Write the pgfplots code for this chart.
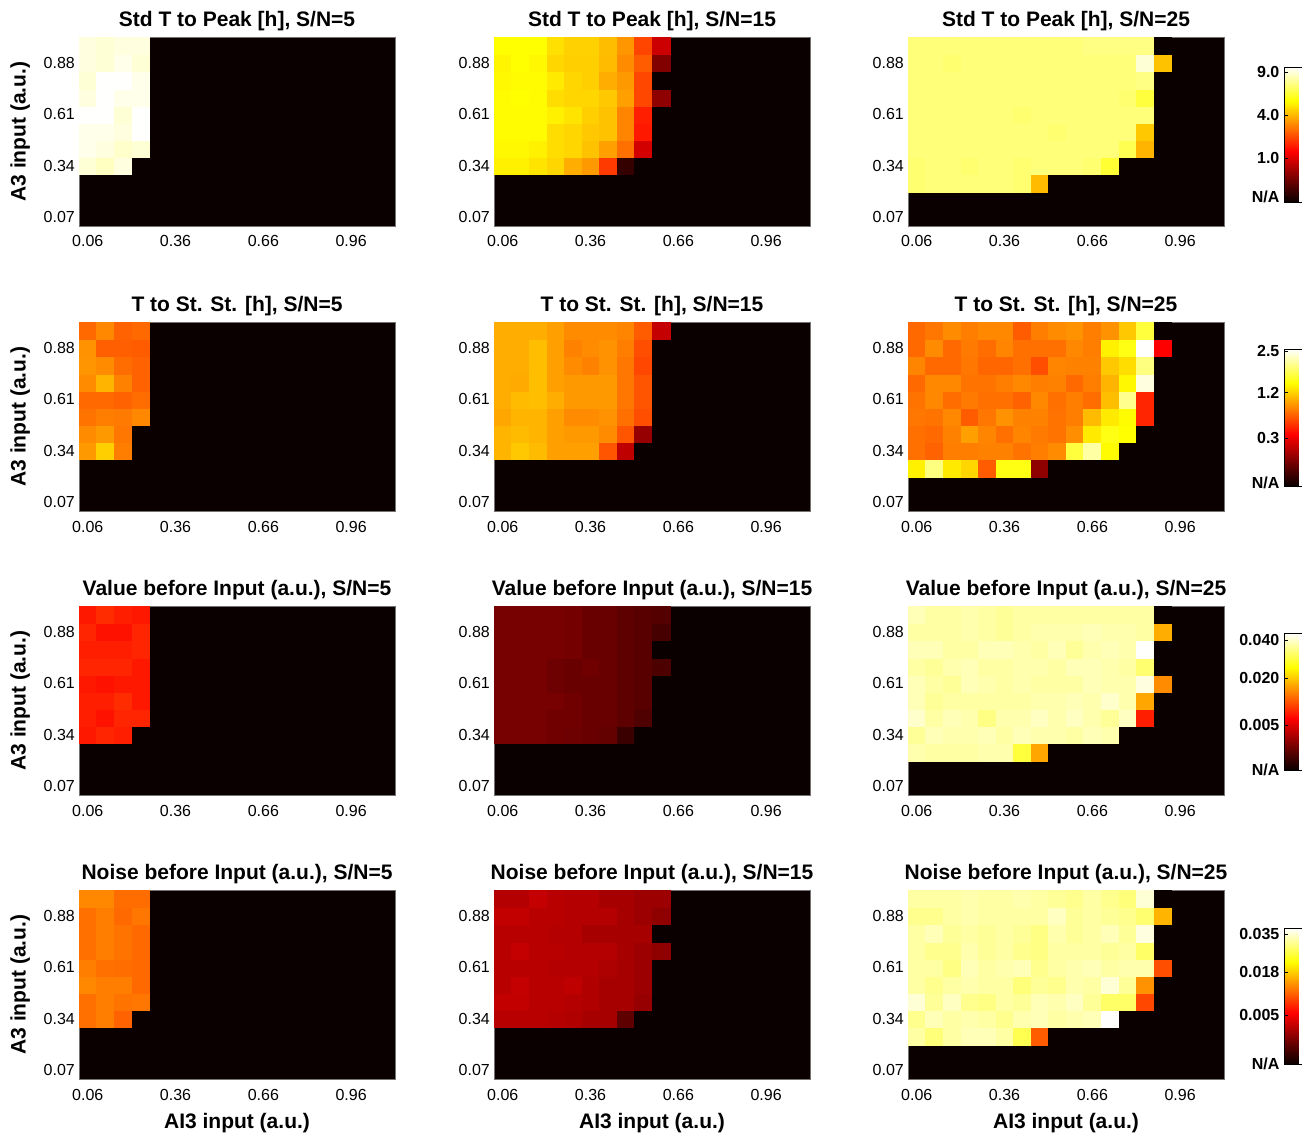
\documentclass[border=0pt]{standalone}
\usepackage{fontspec}
\setmainfont{Liberation Sans}
\usepackage{pgfplots}
\usepackage{pgfplotstable}
\pgfplotsset{compat=1.18}

\definecolor{hotblack}{rgb}{0.0417,0,0}

% colour value c in [0,1] along a MATLAB-like "hot" map; 0 = N/A
% Std T to Peak
\pgfplotstableread[row sep=\\]{
x y c\\
0.06 0.34 0.96\\ 0.12 0.34 0.94\\ 0.18 0.34 0.97\\ 0.24 0.34 0\\
0.06 0.43 0.98\\ 0.12 0.43 0.97\\ 0.18 0.43 0.95\\ 0.24 0.43 0.96\\
0.06 0.52 0.98\\ 0.12 0.52 0.98\\ 0.18 0.52 0.97\\ 0.24 0.52 1.00\\
0.06 0.61 1.00\\ 0.12 0.61 1.00\\ 0.18 0.61 0.96\\ 0.24 0.61 1.00\\
0.06 0.70 0.97\\ 0.12 0.70 1.00\\ 0.18 0.70 0.98\\ 0.24 0.70 0.98\\
0.06 0.79 0.96\\ 0.12 0.79 1.00\\ 0.18 0.79 1.00\\ 0.24 0.79 0.98\\
0.06 0.88 0.97\\ 0.12 0.88 0.96\\ 0.18 0.88 0.98\\ 0.24 0.88 0.96\\
0.06 0.97 0.97\\ 0.12 0.97 0.96\\ 0.18 0.97 0.97\\ 0.24 0.97 0.97\\
}\tAa
\pgfplotstableread[row sep=\\]{
x y c\\
0.06 0.34 0.73\\ 0.12 0.34 0.73\\ 0.18 0.34 0.71\\ 0.24 0.34 0.69\\ 0.30 0.34 0.63\\ 0.36 0.34 0.60\\ 0.42 0.34 0.46\\ 0.48 0.34 0.07\\ 0.54 0.34 0\\ 0.60 0.34 0\\
0.06 0.43 0.74\\ 0.12 0.43 0.74\\ 0.18 0.43 0.73\\ 0.24 0.43 0.70\\ 0.30 0.43 0.69\\ 0.36 0.43 0.66\\ 0.42 0.43 0.61\\ 0.48 0.43 0.54\\ 0.54 0.43 0.31\\ 0.60 0.43 0\\
0.06 0.52 0.745\\ 0.12 0.52 0.745\\ 0.18 0.52 0.745\\ 0.24 0.52 0.70\\ 0.30 0.52 0.69\\ 0.36 0.52 0.67\\ 0.42 0.52 0.66\\ 0.48 0.52 0.57\\ 0.54 0.52 0.41\\ 0.60 0.52 0\\
0.06 0.61 0.745\\ 0.12 0.61 0.745\\ 0.18 0.61 0.745\\ 0.24 0.61 0.73\\ 0.30 0.61 0.71\\ 0.36 0.61 0.68\\ 0.42 0.61 0.66\\ 0.48 0.61 0.57\\ 0.54 0.61 0.42\\ 0.60 0.61 0\\
0.06 0.70 0.745\\ 0.12 0.70 0.75\\ 0.18 0.70 0.745\\ 0.24 0.70 0.70\\ 0.30 0.70 0.69\\ 0.36 0.70 0.69\\ 0.42 0.70 0.67\\ 0.48 0.70 0.61\\ 0.54 0.70 0.48\\ 0.60 0.70 0.21\\
0.06 0.79 0.74\\ 0.12 0.79 0.745\\ 0.18 0.79 0.745\\ 0.24 0.79 0.72\\ 0.30 0.79 0.69\\ 0.36 0.79 0.68\\ 0.42 0.79 0.63\\ 0.48 0.79 0.60\\ 0.54 0.79 0.48\\ 0.60 0.79 0\\
0.06 0.88 0.735\\ 0.12 0.88 0.75\\ 0.18 0.88 0.74\\ 0.24 0.88 0.69\\ 0.30 0.88 0.68\\ 0.36 0.88 0.68\\ 0.42 0.88 0.65\\ 0.48 0.88 0.58\\ 0.54 0.88 0.51\\ 0.60 0.88 0.19\\
0.06 0.97 0.75\\ 0.12 0.97 0.75\\ 0.18 0.97 0.75\\ 0.24 0.97 0.705\\ 0.30 0.97 0.683\\ 0.36 0.97 0.683\\ 0.42 0.97 0.654\\ 0.48 0.97 0.596\\ 0.54 0.97 0.477\\ 0.60 0.97 0.30\\
}\tAb
\pgfplotstableread[row sep=\\]{
x y c\\
0.06 0.25 0.86\\ 0.12 0.25 0.87\\ 0.18 0.25 0.87\\ 0.24 0.25 0.87\\ 0.30 0.25 0.87\\ 0.36 0.25 0.87\\ 0.42 0.25 0.86\\ 0.48 0.25 0.65\\ 0.54 0.25 0\\ 0.60 0.25 0\\ 0.66 0.25 0\\ 0.72 0.25 0\\ 0.78 0.25 0\\ 0.84 0.25 0\\ 0.90 0.25 0\\
0.06 0.34 0.86\\ 0.12 0.34 0.87\\ 0.18 0.34 0.87\\ 0.24 0.34 0.86\\ 0.30 0.34 0.87\\ 0.36 0.34 0.87\\ 0.42 0.34 0.86\\ 0.48 0.34 0.87\\ 0.54 0.34 0.87\\ 0.60 0.34 0.87\\ 0.66 0.34 0.86\\ 0.72 0.34 0.80\\ 0.78 0.34 0\\ 0.84 0.34 0\\ 0.90 0.34 0\\
0.06 0.43 0.87\\ 0.12 0.43 0.87\\ 0.18 0.43 0.87\\ 0.24 0.43 0.87\\ 0.30 0.43 0.87\\ 0.36 0.43 0.87\\ 0.42 0.43 0.87\\ 0.48 0.43 0.87\\ 0.54 0.43 0.87\\ 0.60 0.43 0.87\\ 0.66 0.43 0.87\\ 0.72 0.43 0.87\\ 0.78 0.43 0.83\\ 0.84 0.43 0.64\\ 0.90 0.43 0\\
0.06 0.52 0.87\\ 0.12 0.52 0.87\\ 0.18 0.52 0.87\\ 0.24 0.52 0.87\\ 0.30 0.52 0.87\\ 0.36 0.52 0.87\\ 0.42 0.52 0.87\\ 0.48 0.52 0.87\\ 0.54 0.52 0.86\\ 0.60 0.52 0.87\\ 0.66 0.52 0.87\\ 0.72 0.52 0.87\\ 0.78 0.52 0.87\\ 0.84 0.52 0.67\\ 0.90 0.52 0\\
0.06 0.61 0.87\\ 0.12 0.61 0.87\\ 0.18 0.61 0.87\\ 0.24 0.61 0.87\\ 0.30 0.61 0.87\\ 0.36 0.61 0.87\\ 0.42 0.61 0.86\\ 0.48 0.61 0.87\\ 0.54 0.61 0.87\\ 0.60 0.61 0.87\\ 0.66 0.61 0.87\\ 0.72 0.61 0.87\\ 0.78 0.61 0.87\\ 0.84 0.61 0.87\\ 0.90 0.61 0\\
0.06 0.70 0.87\\ 0.12 0.70 0.87\\ 0.18 0.70 0.87\\ 0.24 0.70 0.87\\ 0.30 0.70 0.87\\ 0.36 0.70 0.87\\ 0.42 0.70 0.87\\ 0.48 0.70 0.87\\ 0.54 0.70 0.87\\ 0.60 0.70 0.87\\ 0.66 0.70 0.87\\ 0.72 0.70 0.87\\ 0.78 0.70 0.86\\ 0.84 0.70 0.81\\ 0.90 0.70 0\\
0.06 0.79 0.87\\ 0.12 0.79 0.87\\ 0.18 0.79 0.87\\ 0.24 0.79 0.87\\ 0.30 0.79 0.87\\ 0.36 0.79 0.87\\ 0.42 0.79 0.87\\ 0.48 0.79 0.87\\ 0.54 0.79 0.87\\ 0.60 0.79 0.87\\ 0.66 0.79 0.87\\ 0.72 0.79 0.87\\ 0.78 0.79 0.87\\ 0.84 0.79 0.88\\ 0.90 0.79 0\\
0.06 0.88 0.87\\ 0.12 0.88 0.87\\ 0.18 0.88 0.86\\ 0.24 0.88 0.87\\ 0.30 0.88 0.87\\ 0.36 0.88 0.87\\ 0.42 0.88 0.87\\ 0.48 0.88 0.87\\ 0.54 0.88 0.87\\ 0.60 0.88 0.87\\ 0.66 0.88 0.87\\ 0.72 0.88 0.87\\ 0.78 0.88 0.87\\ 0.84 0.88 0.96\\ 0.90 0.88 0.66\\
0.06 0.97 0.87\\ 0.12 0.97 0.87\\ 0.18 0.97 0.87\\ 0.24 0.97 0.87\\ 0.30 0.97 0.87\\ 0.36 0.97 0.87\\ 0.42 0.97 0.87\\ 0.48 0.97 0.87\\ 0.54 0.97 0.87\\ 0.60 0.97 0.87\\ 0.66 0.97 0.88\\ 0.72 0.97 0.88\\ 0.78 0.97 0.88\\ 0.84 0.97 0.88\\ 0.90 0.97 0\\
}\tAc
% T to St. St.
\pgfplotstableread[row sep=\\]{
x y c\\
0.06 0.34 0.60\\ 0.12 0.34 0.68\\ 0.18 0.34 0.56\\ 0.24 0.34 0\\
0.06 0.43 0.58\\ 0.12 0.43 0.60\\ 0.18 0.43 0.55\\ 0.24 0.43 0\\
0.06 0.52 0.545\\ 0.12 0.52 0.56\\ 0.18 0.52 0.555\\ 0.24 0.52 0.575\\
0.06 0.61 0.53\\ 0.12 0.61 0.53\\ 0.18 0.61 0.52\\ 0.24 0.61 0.535\\
0.06 0.70 0.58\\ 0.12 0.70 0.64\\ 0.18 0.70 0.565\\ 0.24 0.70 0.52\\
0.06 0.79 0.595\\ 0.12 0.79 0.58\\ 0.18 0.79 0.535\\ 0.24 0.79 0.52\\
0.06 0.88 0.59\\ 0.12 0.88 0.515\\ 0.18 0.88 0.515\\ 0.24 0.88 0.51\\
0.06 0.97 0.53\\ 0.12 0.97 0.575\\ 0.18 0.97 0.52\\ 0.24 0.97 0.53\\
}\tBa
\pgfplotstableread[row sep=\\]{
x y c\\
0.06 0.34 0.64\\ 0.12 0.34 0.67\\ 0.18 0.34 0.65\\ 0.24 0.34 0.61\\ 0.30 0.34 0.61\\ 0.36 0.34 0.61\\ 0.42 0.34 0.50\\ 0.48 0.34 0.28\\ 0.54 0.34 0\\ 0.60 0.34 0\\
0.06 0.43 0.64\\ 0.12 0.43 0.65\\ 0.18 0.43 0.64\\ 0.24 0.43 0.61\\ 0.30 0.43 0.60\\ 0.36 0.43 0.60\\ 0.42 0.43 0.58\\ 0.48 0.43 0.50\\ 0.54 0.43 0.22\\ 0.60 0.43 0\\
0.06 0.52 0.62\\ 0.12 0.52 0.64\\ 0.18 0.52 0.64\\ 0.24 0.52 0.61\\ 0.30 0.52 0.58\\ 0.36 0.52 0.58\\ 0.42 0.52 0.59\\ 0.48 0.52 0.54\\ 0.54 0.52 0.49\\ 0.60 0.52 0\\
0.06 0.61 0.63\\ 0.12 0.61 0.65\\ 0.18 0.61 0.655\\ 0.24 0.61 0.63\\ 0.30 0.61 0.60\\ 0.36 0.61 0.60\\ 0.42 0.61 0.60\\ 0.48 0.61 0.55\\ 0.54 0.61 0.50\\ 0.60 0.61 0\\
0.06 0.70 0.63\\ 0.12 0.70 0.625\\ 0.18 0.70 0.655\\ 0.24 0.70 0.61\\ 0.30 0.70 0.60\\ 0.36 0.70 0.60\\ 0.42 0.70 0.60\\ 0.48 0.70 0.55\\ 0.54 0.70 0.50\\ 0.60 0.70 0\\
0.06 0.79 0.63\\ 0.12 0.79 0.63\\ 0.18 0.79 0.655\\ 0.24 0.79 0.61\\ 0.30 0.79 0.58\\ 0.36 0.79 0.565\\ 0.42 0.79 0.59\\ 0.48 0.79 0.55\\ 0.54 0.79 0.48\\ 0.60 0.79 0\\
0.06 0.88 0.63\\ 0.12 0.88 0.63\\ 0.18 0.88 0.655\\ 0.24 0.88 0.61\\ 0.30 0.88 0.565\\ 0.36 0.88 0.58\\ 0.42 0.88 0.59\\ 0.48 0.88 0.56\\ 0.54 0.88 0.49\\ 0.60 0.88 0\\
0.06 0.97 0.63\\ 0.12 0.97 0.63\\ 0.18 0.97 0.63\\ 0.24 0.97 0.61\\ 0.30 0.97 0.58\\ 0.36 0.97 0.58\\ 0.42 0.97 0.58\\ 0.48 0.97 0.57\\ 0.54 0.97 0.51\\ 0.60 0.97 0.29\\
}\tBb
\pgfplotstableread[row sep=\\]{
x y c\\
0.06 0.25 0.73\\ 0.12 0.25 0.875\\ 0.18 0.25 0.72\\ 0.24 0.25 0.69\\ 0.30 0.25 0.51\\ 0.36 0.25 0.77\\ 0.42 0.25 0.77\\ 0.48 0.25 0.21\\ 0.54 0.25 0\\ 0.60 0.25 0\\ 0.66 0.25 0\\ 0.72 0.25 0\\ 0.78 0.25 0\\ 0.84 0.25 0\\ 0.90 0.25 0\\
0.06 0.34 0.54\\ 0.12 0.34 0.52\\ 0.18 0.34 0.56\\ 0.24 0.34 0.56\\ 0.30 0.34 0.565\\ 0.36 0.34 0.565\\ 0.42 0.34 0.545\\ 0.48 0.34 0.56\\ 0.54 0.34 0.58\\ 0.60 0.34 0.81\\ 0.66 0.34 0.91\\ 0.72 0.34 0.745\\ 0.78 0.34 0\\ 0.84 0.34 0\\ 0.90 0.34 0\\
0.06 0.43 0.54\\ 0.12 0.43 0.53\\ 0.18 0.43 0.565\\ 0.24 0.43 0.61\\ 0.30 0.43 0.57\\ 0.36 0.43 0.54\\ 0.42 0.43 0.57\\ 0.48 0.43 0.555\\ 0.54 0.43 0.545\\ 0.60 0.43 0.585\\ 0.66 0.43 0.72\\ 0.72 0.43 0.77\\ 0.78 0.43 0.75\\ 0.84 0.43 0\\ 0.90 0.43 0\\
0.06 0.52 0.55\\ 0.12 0.52 0.545\\ 0.18 0.52 0.575\\ 0.24 0.52 0.51\\ 0.30 0.52 0.55\\ 0.36 0.52 0.59\\ 0.42 0.52 0.565\\ 0.48 0.52 0.565\\ 0.54 0.52 0.545\\ 0.60 0.52 0.56\\ 0.66 0.52 0.65\\ 0.72 0.52 0.72\\ 0.78 0.52 0.745\\ 0.84 0.52 0.43\\ 0.90 0.52 0\\
0.06 0.61 0.545\\ 0.12 0.61 0.575\\ 0.18 0.61 0.535\\ 0.24 0.61 0.555\\ 0.30 0.61 0.54\\ 0.36 0.61 0.54\\ 0.42 0.61 0.52\\ 0.48 0.61 0.575\\ 0.54 0.61 0.54\\ 0.60 0.61 0.56\\ 0.66 0.61 0.535\\ 0.72 0.61 0.655\\ 0.78 0.61 0.89\\ 0.84 0.61 0.43\\ 0.90 0.61 0\\
0.06 0.70 0.53\\ 0.12 0.70 0.575\\ 0.18 0.70 0.575\\ 0.24 0.70 0.545\\ 0.30 0.70 0.545\\ 0.36 0.70 0.56\\ 0.42 0.70 0.575\\ 0.48 0.70 0.56\\ 0.54 0.70 0.565\\ 0.60 0.70 0.53\\ 0.66 0.70 0.56\\ 0.72 0.70 0.64\\ 0.78 0.70 0.74\\ 0.84 0.70 0.97\\ 0.90 0.70 0\\
0.06 0.79 0.57\\ 0.12 0.79 0.53\\ 0.18 0.79 0.53\\ 0.24 0.79 0.55\\ 0.30 0.79 0.525\\ 0.36 0.79 0.525\\ 0.42 0.79 0.54\\ 0.48 0.79 0.49\\ 0.54 0.79 0.57\\ 0.60 0.79 0.565\\ 0.66 0.79 0.565\\ 0.72 0.79 0.67\\ 0.78 0.79 0.70\\ 0.84 0.79 0.875\\ 0.90 0.79 0\\
0.06 0.88 0.53\\ 0.12 0.88 0.58\\ 0.18 0.88 0.53\\ 0.24 0.88 0.555\\ 0.30 0.88 0.535\\ 0.36 0.88 0.57\\ 0.42 0.88 0.54\\ 0.48 0.88 0.54\\ 0.54 0.88 0.54\\ 0.60 0.88 0.575\\ 0.66 0.88 0.56\\ 0.72 0.88 0.73\\ 0.78 0.88 0.77\\ 0.84 0.88 1.00\\ 0.90 0.88 0.375\\
0.06 0.97 0.53\\ 0.12 0.97 0.55\\ 0.18 0.97 0.58\\ 0.24 0.97 0.56\\ 0.30 0.97 0.575\\ 0.36 0.97 0.575\\ 0.42 0.97 0.51\\ 0.48 0.97 0.56\\ 0.54 0.97 0.58\\ 0.60 0.97 0.59\\ 0.66 0.97 0.56\\ 0.72 0.97 0.59\\ 0.78 0.97 0.67\\ 0.84 0.97 0.81\\ 0.90 0.97 0\\
}\tBc
% Value before Input
\pgfplotstableread[row sep=\\]{
x y c\\
0.06 0.34 0.41\\ 0.12 0.34 0.43\\ 0.18 0.34 0.42\\ 0.24 0.34 0\\
0.06 0.43 0.42\\ 0.12 0.43 0.40\\ 0.18 0.43 0.43\\ 0.24 0.43 0.43\\
0.06 0.52 0.42\\ 0.12 0.52 0.42\\ 0.18 0.52 0.44\\ 0.24 0.52 0.41\\
0.06 0.61 0.41\\ 0.12 0.61 0.40\\ 0.18 0.61 0.41\\ 0.24 0.61 0.41\\
0.06 0.70 0.43\\ 0.12 0.70 0.43\\ 0.18 0.70 0.43\\ 0.24 0.70 0.41\\
0.06 0.79 0.42\\ 0.12 0.79 0.42\\ 0.18 0.79 0.42\\ 0.24 0.79 0.43\\
0.06 0.88 0.43\\ 0.12 0.88 0.40\\ 0.18 0.88 0.40\\ 0.24 0.88 0.43\\
0.06 0.97 0.41\\ 0.12 0.97 0.44\\ 0.18 0.97 0.42\\ 0.24 0.97 0.41\\
}\tCa
\pgfplotstableread[row sep=\\]{
x y c\\
0.06 0.34 0.175\\ 0.12 0.34 0.175\\ 0.18 0.34 0.175\\ 0.24 0.34 0.165\\ 0.30 0.34 0.16\\ 0.36 0.34 0.155\\ 0.42 0.34 0.145\\ 0.48 0.34 0.08\\ 0.54 0.34 0\\ 0.60 0.34 0\\
0.06 0.43 0.175\\ 0.12 0.43 0.175\\ 0.18 0.43 0.175\\ 0.24 0.43 0.165\\ 0.30 0.43 0.165\\ 0.36 0.43 0.155\\ 0.42 0.43 0.155\\ 0.48 0.43 0.14\\ 0.54 0.43 0.115\\ 0.60 0.43 0\\
0.06 0.52 0.175\\ 0.12 0.52 0.175\\ 0.18 0.52 0.175\\ 0.24 0.52 0.175\\ 0.30 0.52 0.165\\ 0.36 0.52 0.155\\ 0.42 0.52 0.155\\ 0.48 0.52 0.14\\ 0.54 0.52 0.13\\ 0.60 0.52 0\\
0.06 0.61 0.175\\ 0.12 0.61 0.175\\ 0.18 0.61 0.175\\ 0.24 0.61 0.16\\ 0.30 0.61 0.155\\ 0.36 0.61 0.155\\ 0.42 0.61 0.155\\ 0.48 0.61 0.14\\ 0.54 0.61 0.13\\ 0.60 0.61 0\\
0.06 0.70 0.175\\ 0.12 0.70 0.175\\ 0.18 0.70 0.175\\ 0.24 0.70 0.16\\ 0.30 0.70 0.155\\ 0.36 0.70 0.165\\ 0.42 0.70 0.155\\ 0.48 0.70 0.14\\ 0.54 0.70 0.13\\ 0.60 0.70 0.11\\
0.06 0.79 0.175\\ 0.12 0.79 0.175\\ 0.18 0.79 0.175\\ 0.24 0.79 0.175\\ 0.30 0.79 0.17\\ 0.36 0.79 0.155\\ 0.42 0.79 0.155\\ 0.48 0.79 0.14\\ 0.54 0.79 0.13\\ 0.60 0.79 0\\
0.06 0.88 0.175\\ 0.12 0.88 0.175\\ 0.18 0.88 0.175\\ 0.24 0.88 0.175\\ 0.30 0.88 0.17\\ 0.36 0.88 0.155\\ 0.42 0.88 0.155\\ 0.48 0.88 0.14\\ 0.54 0.88 0.13\\ 0.60 0.88 0.10\\
0.06 0.97 0.175\\ 0.12 0.97 0.175\\ 0.18 0.97 0.175\\ 0.24 0.97 0.175\\ 0.30 0.97 0.17\\ 0.36 0.97 0.155\\ 0.42 0.97 0.155\\ 0.48 0.97 0.14\\ 0.54 0.97 0.13\\ 0.60 0.97 0.125\\
}\tCb
\pgfplotstableread[row sep=\\]{
x y c\\
0.06 0.25 0.92\\ 0.12 0.25 0.91\\ 0.18 0.25 0.91\\ 0.24 0.25 0.91\\ 0.30 0.25 0.92\\ 0.36 0.25 0.92\\ 0.42 0.25 0.81\\ 0.48 0.25 0.62\\ 0.54 0.25 0\\ 0.60 0.25 0\\ 0.66 0.25 0\\ 0.72 0.25 0\\ 0.78 0.25 0\\ 0.84 0.25 0\\ 0.90 0.25 0\\
0.06 0.34 0.90\\ 0.12 0.34 0.93\\ 0.18 0.34 0.92\\ 0.24 0.34 0.92\\ 0.30 0.34 0.93\\ 0.36 0.34 0.91\\ 0.42 0.34 0.93\\ 0.48 0.34 0.92\\ 0.54 0.34 0.92\\ 0.60 0.34 0.91\\ 0.66 0.34 0.93\\ 0.72 0.34 0.92\\ 0.78 0.34 0\\ 0.84 0.34 0\\ 0.90 0.34 0\\
0.06 0.43 0.95\\ 0.12 0.43 0.91\\ 0.18 0.43 0.93\\ 0.24 0.43 0.92\\ 0.30 0.43 0.88\\ 0.36 0.43 0.92\\ 0.42 0.43 0.92\\ 0.48 0.43 0.94\\ 0.54 0.43 0.92\\ 0.60 0.43 0.94\\ 0.66 0.43 0.92\\ 0.72 0.43 0.90\\ 0.78 0.43 0.94\\ 0.84 0.43 0.42\\ 0.90 0.43 0\\
0.06 0.52 0.93\\ 0.12 0.52 0.90\\ 0.18 0.52 0.91\\ 0.24 0.52 0.91\\ 0.30 0.52 0.91\\ 0.36 0.52 0.91\\ 0.42 0.52 0.91\\ 0.48 0.52 0.92\\ 0.54 0.52 0.92\\ 0.60 0.52 0.93\\ 0.66 0.52 0.92\\ 0.72 0.52 0.95\\ 0.78 0.52 0.92\\ 0.84 0.52 0.62\\ 0.90 0.52 0\\
0.06 0.61 0.93\\ 0.12 0.61 0.91\\ 0.18 0.61 0.90\\ 0.24 0.61 0.93\\ 0.30 0.61 0.92\\ 0.36 0.61 0.91\\ 0.42 0.61 0.92\\ 0.48 0.61 0.91\\ 0.54 0.61 0.91\\ 0.60 0.61 0.91\\ 0.66 0.61 0.93\\ 0.72 0.61 0.92\\ 0.78 0.61 0.92\\ 0.84 0.61 0.97\\ 0.90 0.61 0.58\\
0.06 0.70 0.91\\ 0.12 0.70 0.90\\ 0.18 0.70 0.92\\ 0.24 0.70 0.93\\ 0.30 0.70 0.91\\ 0.36 0.70 0.91\\ 0.42 0.70 0.92\\ 0.48 0.70 0.92\\ 0.54 0.70 0.91\\ 0.60 0.70 0.93\\ 0.66 0.70 0.93\\ 0.72 0.70 0.92\\ 0.78 0.70 0.91\\ 0.84 0.70 0.86\\ 0.90 0.70 0\\
0.06 0.79 0.93\\ 0.12 0.79 0.93\\ 0.18 0.79 0.91\\ 0.24 0.79 0.91\\ 0.30 0.79 0.93\\ 0.36 0.79 0.93\\ 0.42 0.79 0.92\\ 0.48 0.79 0.91\\ 0.54 0.79 0.93\\ 0.60 0.79 0.90\\ 0.66 0.79 0.92\\ 0.72 0.79 0.93\\ 0.78 0.79 0.92\\ 0.84 0.79 1.00\\ 0.90 0.79 0\\
0.06 0.88 0.91\\ 0.12 0.88 0.91\\ 0.18 0.88 0.91\\ 0.24 0.88 0.92\\ 0.30 0.88 0.91\\ 0.36 0.88 0.90\\ 0.42 0.88 0.91\\ 0.48 0.88 0.92\\ 0.54 0.88 0.92\\ 0.60 0.88 0.92\\ 0.66 0.88 0.93\\ 0.72 0.88 0.92\\ 0.78 0.88 0.92\\ 0.84 0.88 0.91\\ 0.90 0.88 0.63\\
0.06 0.97 0.93\\ 0.12 0.97 0.91\\ 0.18 0.97 0.91\\ 0.24 0.97 0.92\\ 0.30 0.97 0.91\\ 0.36 0.97 0.90\\ 0.42 0.97 0.91\\ 0.48 0.97 0.91\\ 0.54 0.97 0.91\\ 0.60 0.97 0.91\\ 0.66 0.97 0.91\\ 0.72 0.97 0.91\\ 0.78 0.97 0.91\\ 0.84 0.97 0.91\\ 0.90 0.97 0\\
}\tCc
% Noise before Input
\pgfplotstableread[row sep=\\]{
x y c\\
0.06 0.34 0.54\\ 0.12 0.34 0.56\\ 0.18 0.34 0.52\\ 0.24 0.34 0\\
0.06 0.43 0.54\\ 0.12 0.43 0.56\\ 0.18 0.43 0.545\\ 0.24 0.43 0.55\\
0.06 0.52 0.575\\ 0.12 0.52 0.56\\ 0.18 0.52 0.56\\ 0.24 0.52 0.53\\
0.06 0.61 0.56\\ 0.12 0.61 0.54\\ 0.18 0.61 0.535\\ 0.24 0.61 0.53\\
0.06 0.70 0.54\\ 0.12 0.70 0.56\\ 0.18 0.70 0.545\\ 0.24 0.70 0.53\\
0.06 0.79 0.54\\ 0.12 0.79 0.56\\ 0.18 0.79 0.545\\ 0.24 0.79 0.53\\
0.06 0.88 0.54\\ 0.12 0.88 0.56\\ 0.18 0.88 0.53\\ 0.24 0.88 0.55\\
0.06 0.97 0.575\\ 0.12 0.97 0.575\\ 0.18 0.97 0.535\\ 0.24 0.97 0.535\\
}\tDa
\pgfplotstableread[row sep=\\]{
x y c\\
0.06 0.34 0.27\\ 0.12 0.34 0.27\\ 0.18 0.34 0.27\\ 0.24 0.34 0.265\\ 0.30 0.34 0.26\\ 0.36 0.34 0.245\\ 0.42 0.34 0.245\\ 0.48 0.34 0.14\\ 0.54 0.34 0\\ 0.60 0.34 0\\
0.06 0.43 0.285\\ 0.12 0.43 0.285\\ 0.18 0.43 0.27\\ 0.24 0.43 0.27\\ 0.30 0.43 0.265\\ 0.36 0.43 0.26\\ 0.42 0.43 0.245\\ 0.48 0.43 0.245\\ 0.54 0.43 0.22\\ 0.60 0.43 0\\
0.06 0.52 0.27\\ 0.12 0.52 0.29\\ 0.18 0.52 0.27\\ 0.24 0.52 0.27\\ 0.30 0.52 0.28\\ 0.36 0.52 0.26\\ 0.42 0.52 0.245\\ 0.48 0.52 0.245\\ 0.54 0.52 0.23\\ 0.60 0.52 0\\
0.06 0.61 0.27\\ 0.12 0.61 0.27\\ 0.18 0.61 0.27\\ 0.24 0.61 0.265\\ 0.30 0.61 0.265\\ 0.36 0.61 0.265\\ 0.42 0.61 0.255\\ 0.48 0.61 0.245\\ 0.54 0.61 0.23\\ 0.60 0.61 0\\
0.06 0.70 0.27\\ 0.12 0.70 0.29\\ 0.18 0.70 0.27\\ 0.24 0.70 0.27\\ 0.30 0.70 0.265\\ 0.36 0.70 0.265\\ 0.42 0.70 0.265\\ 0.48 0.70 0.245\\ 0.54 0.70 0.23\\ 0.60 0.70 0.21\\
0.06 0.79 0.27\\ 0.12 0.79 0.27\\ 0.18 0.79 0.27\\ 0.24 0.79 0.265\\ 0.30 0.79 0.265\\ 0.36 0.79 0.245\\ 0.42 0.79 0.245\\ 0.48 0.79 0.245\\ 0.54 0.79 0.245\\ 0.60 0.79 0\\
0.06 0.88 0.285\\ 0.12 0.88 0.285\\ 0.18 0.88 0.27\\ 0.24 0.88 0.27\\ 0.30 0.88 0.265\\ 0.36 0.88 0.265\\ 0.42 0.88 0.265\\ 0.48 0.88 0.245\\ 0.54 0.88 0.23\\ 0.60 0.88 0.21\\
0.06 0.97 0.265\\ 0.12 0.97 0.265\\ 0.18 0.97 0.29\\ 0.24 0.97 0.27\\ 0.30 0.97 0.265\\ 0.36 0.97 0.265\\ 0.42 0.97 0.245\\ 0.48 0.97 0.245\\ 0.54 0.97 0.23\\ 0.60 0.97 0.23\\
}\tDb
\pgfplotstableread[row sep=\\]{
x y c\\
0.06 0.25 0.91\\ 0.12 0.25 0.87\\ 0.18 0.25 0.91\\ 0.24 0.25 0.93\\ 0.30 0.25 0.93\\ 0.36 0.25 0.91\\ 0.42 0.25 0.83\\ 0.48 0.25 0.51\\ 0.54 0.25 0\\ 0.60 0.25 0\\ 0.66 0.25 0\\ 0.72 0.25 0\\ 0.78 0.25 0\\ 0.84 0.25 0\\ 0.90 0.25 0\\
0.06 0.34 0.89\\ 0.12 0.34 0.93\\ 0.18 0.34 0.91\\ 0.24 0.34 0.92\\ 0.30 0.34 0.91\\ 0.36 0.34 0.89\\ 0.42 0.34 0.92\\ 0.48 0.34 0.93\\ 0.54 0.34 0.91\\ 0.60 0.34 0.92\\ 0.66 0.34 0.93\\ 0.72 0.34 1.00\\ 0.78 0.34 0\\ 0.84 0.34 0\\ 0.90 0.34 0\\
0.06 0.43 0.96\\ 0.12 0.43 0.90\\ 0.18 0.43 0.94\\ 0.24 0.43 0.89\\ 0.30 0.43 0.88\\ 0.36 0.43 0.91\\ 0.42 0.43 0.90\\ 0.48 0.43 0.93\\ 0.54 0.43 0.92\\ 0.60 0.43 0.94\\ 0.66 0.43 0.90\\ 0.72 0.43 0.85\\ 0.78 0.43 0.85\\ 0.84 0.43 0.48\\ 0.90 0.43 0\\
0.06 0.52 0.91\\ 0.12 0.52 0.89\\ 0.18 0.52 0.91\\ 0.24 0.52 0.92\\ 0.30 0.52 0.91\\ 0.36 0.52 0.91\\ 0.42 0.52 0.87\\ 0.48 0.52 0.90\\ 0.54 0.52 0.89\\ 0.60 0.52 0.92\\ 0.66 0.52 0.91\\ 0.72 0.52 0.96\\ 0.78 0.52 0.90\\ 0.84 0.52 0.59\\ 0.90 0.52 0\\
0.06 0.61 0.91\\ 0.12 0.61 0.91\\ 0.18 0.61 0.88\\ 0.24 0.61 0.93\\ 0.30 0.61 0.91\\ 0.36 0.61 0.92\\ 0.42 0.61 0.93\\ 0.48 0.61 0.89\\ 0.54 0.61 0.91\\ 0.60 0.61 0.92\\ 0.66 0.61 0.93\\ 0.72 0.61 0.91\\ 0.78 0.61 0.92\\ 0.84 0.61 0.92\\ 0.90 0.61 0.49\\
0.06 0.70 0.91\\ 0.12 0.70 0.89\\ 0.18 0.70 0.89\\ 0.24 0.70 0.92\\ 0.30 0.70 0.90\\ 0.36 0.70 0.91\\ 0.42 0.70 0.89\\ 0.48 0.70 0.88\\ 0.54 0.70 0.91\\ 0.60 0.70 0.91\\ 0.66 0.70 0.91\\ 0.72 0.70 0.90\\ 0.78 0.70 0.91\\ 0.84 0.70 0.85\\ 0.90 0.70 0\\
0.06 0.79 0.91\\ 0.12 0.79 0.93\\ 0.18 0.79 0.90\\ 0.24 0.79 0.91\\ 0.30 0.79 0.90\\ 0.36 0.79 0.91\\ 0.42 0.79 0.90\\ 0.48 0.79 0.88\\ 0.54 0.79 0.92\\ 0.60 0.79 0.90\\ 0.66 0.79 0.91\\ 0.72 0.79 0.93\\ 0.78 0.79 0.90\\ 0.84 0.79 0.97\\ 0.90 0.79 0\\
0.06 0.88 0.89\\ 0.12 0.88 0.89\\ 0.18 0.88 0.91\\ 0.24 0.88 0.92\\ 0.30 0.88 0.91\\ 0.36 0.88 0.91\\ 0.42 0.88 0.91\\ 0.48 0.88 0.91\\ 0.54 0.88 0.94\\ 0.60 0.88 0.90\\ 0.66 0.88 0.91\\ 0.72 0.88 0.90\\ 0.78 0.88 0.89\\ 0.84 0.88 0.86\\ 0.90 0.88 0.64\\
0.06 0.97 0.91\\ 0.12 0.97 0.91\\ 0.18 0.97 0.91\\ 0.24 0.97 0.92\\ 0.30 0.97 0.91\\ 0.36 0.97 0.91\\ 0.42 0.97 0.92\\ 0.48 0.97 0.91\\ 0.54 0.97 0.90\\ 0.60 0.97 0.89\\ 0.66 0.97 0.91\\ 0.72 0.97 0.89\\ 0.78 0.97 0.87\\ 0.84 0.97 0.96\\ 0.90 0.97 0\\
}\tDc

\pgfplotsset{
  colormap={mhot}{rgb=(0.0417,0,0) rgb=(0.3333,0,0) rgb=(0.6667,0,0) rgb=(1,0,0)
    rgb=(1,0.3333,0) rgb=(1,0.6667,0) rgb=(1,1,0) rgb=(1,1,0.5) rgb=(1,1,1)},
  heat/.style={
    scale only axis, width=316pt, height=189pt,
    anchor=north west,
    xmin=0.03, xmax=1.11, ymin=0.025, ymax=1.015,
    xtick={0.06,0.36,0.66,0.96}, xticklabels={0.06,0.36,0.66,0.96},
    ytick={0.07,0.34,0.61,0.88}, yticklabels={0.07,0.34,0.61,0.88},
    major tick length=0pt,
    axis background/.style={fill=hotblack},
    axis line style={draw=black!55, line width=0.6pt},
    colormap name=mhot, point meta min=0, point meta max=1,
    tick label style={font=\fontsize{16}{19}\selectfont},
    xticklabel style={anchor=base, yshift=-21pt},
    yticklabel style={anchor=east, inner sep=0pt, xshift=-4pt},
    title style={font=\fontsize{21}{25}\selectfont\bfseries,
      at={(axis description cs:0.5,1.0238)}, anchor=base},
    label style={font=\fontsize{21}{25}\selectfont\bfseries},
    ylabel style={at={(axis description cs:-0.1693,0.5)}, anchor=base},
    xlabel style={at={(axis description cs:0.5,-0.262)}, anchor=base},
  },
  cbar/.style n args={4}{
    colorbar,
    colorbar style={
      at={(parent axis.north east)}, anchor=north west,
      xshift=52pt, yshift=#1,
      scale only axis, width=23pt, height=#2,
      ytick={#3}, yticklabels={#4},
      yticklabel pos=left, ytick pos=both,
      yticklabel style={font=\fontsize{16}{19}\selectfont\bfseries,
        anchor=east, inner sep=0pt, xshift=-5pt},
      major tick length=3pt,
      axis line style={black, line width=0.6pt},
      tick style={black},
    },
  },
}

% one filled square per grid cell, coloured through the colormap
\newcommand{\cell}[1]{\addplot[scatter, only marks, scatter src=explicit,
  scatter/use mapped color={draw=mapped color, fill=mapped color},
  mark=square*, mark size=8.65pt, mark options={xscale=1.0215, line width=0.2pt}]
  table[meta=c] {#1};}

\begin{document}
\begin{tikzpicture}
\useasboundingbox (0,0) rectangle (1302pt,-1141pt);

% row 1
\begin{axis}[heat, at={(79pt,-37pt)}, title={Std T to Peak [h], S/N=5}, ylabel={A3 input (a.u.)}]
\cell{\tAa}
\end{axis}
\begin{axis}[heat, at={(494pt,-37pt)}, title={Std T to Peak [h], S/N=15}]
\cell{\tAb}
\end{axis}
\begin{axis}[heat, at={(908pt,-37pt)}, title={Std T to Peak [h], S/N=25},
  cbar={-30pt}{135pt}{0.037,0.326,0.644,0.965}{N/A,1.0,4.0,9.0}]
\cell{\tAc}
\end{axis}

% row 2
\begin{axis}[heat, at={(79pt,-322pt)}, title={T to St. St. [h], S/N=5}, ylabel={A3 input (a.u.)}]
\cell{\tBa}
\end{axis}
\begin{axis}[heat, at={(494pt,-322pt)}, title={T to St. St. [h], S/N=15}]
\cell{\tBb}
\end{axis}
\begin{axis}[heat, at={(908pt,-322pt)}, title={T to St. St. [h], S/N=25},
  cbar={-27pt}{137pt}{0.024,0.349,0.682,0.982}{N/A,0.3,1.2,2.5}]
\cell{\tBc}
\end{axis}

% row 3
\begin{axis}[heat, at={(79pt,-606pt)}, title={Value before Input (a.u.), S/N=5}, ylabel={A3 input (a.u.)}]
\cell{\tCa}
\end{axis}
\begin{axis}[heat, at={(494pt,-606pt)}, title={Value before Input (a.u.), S/N=15}]
\cell{\tCb}
\end{axis}
\begin{axis}[heat, at={(908pt,-606pt)}, title={Value before Input (a.u.), S/N=25},
  cbar={-27pt}{137pt}{0.0,0.329,0.671,0.951}{N/A,0.005,0.020,0.040}]
\cell{\tCc}
\end{axis}

% row 4
\begin{axis}[heat, at={(79pt,-890pt)}, title={Noise before Input (a.u.), S/N=5},
  ylabel={A3 input (a.u.)}, xlabel={AI3 input (a.u.)}]
\cell{\tDa}
\end{axis}
\begin{axis}[heat, at={(494pt,-890pt)}, title={Noise before Input (a.u.), S/N=15},
  xlabel={AI3 input (a.u.)}]
\cell{\tDb}
\end{axis}
\begin{axis}[heat, at={(908pt,-890pt)}, title={Noise before Input (a.u.), S/N=25},
  xlabel={AI3 input (a.u.)},
  cbar={-38pt}{136pt}{0.0,0.362,0.673,0.958}{N/A,0.005,0.018,0.035}]
\cell{\tDc}
\end{axis}
\end{tikzpicture}
\end{document}
